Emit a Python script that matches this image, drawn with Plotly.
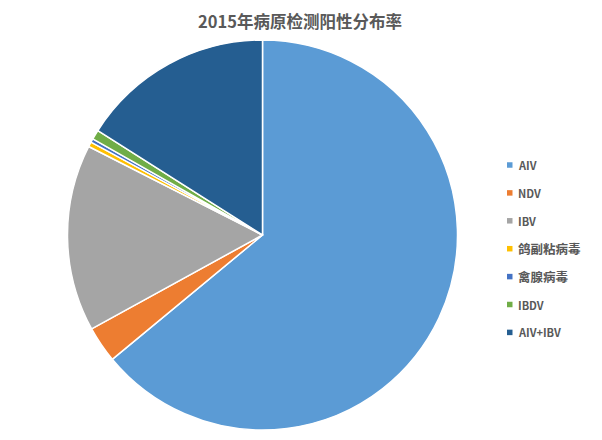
import plotly.graph_objects as go

labels = ["AIV", "NDV", "IBV", "鸽副粘病毒", "禽腺病毒", "IBDV", "AIV+IBV"]
values = [64.0, 3.0, 15.5, 0.4, 0.3, 0.8, 16.0]
colors = ["#5B9BD5", "#ED7D31", "#A5A5A5", "#FFC000", "#4472C4", "#70AD47", "#255E91"]
title = "2015年病原检测阳性分布率"

W, H = 602, 440
OFF = 8  # page offset of the plot div
cx, cy, r = 262.5 - OFF, 235 - OFF, 195

fig = go.Figure(go.Pie(
    labels=labels, values=values, sort=False, direction="clockwise", rotation=0,
    marker=dict(colors=colors, line=dict(color="white", width=1.5)),
    textinfo="none", hoverinfo="label+percent", showlegend=False,
    domain=dict(x=[(cx - r) / W, (cx + r) / W], y=[(H - cy - r) / H, (H - cy + r) / H]),
))

font_family = "Noto Sans CJK SC, Noto Sans, sans-serif"
shapes, annotations = [], []
y0, dy = 165 - OFF, 27.9
for i, (lab, col) in enumerate(zip(labels, colors)):
    yc = y0 + i * dy
    shapes.append(dict(type="rect", xref="paper", yref="paper",
                       x0=(507 - OFF) / W, x1=(512.5 - OFF) / W,
                       y0=1 - (yc + 2.75) / H, y1=1 - (yc - 2.75) / H,
                       fillcolor=col, line=dict(width=0)))
    size = 11 if lab.isascii() else 12.5
    annotations.append(dict(text="<b>" + lab + "</b>", xref="paper", yref="paper",
                            x=(515.5 - OFF) / W, y=1 - yc / H,
                            xanchor="left", yanchor="middle", showarrow=False,
                            font=dict(size=size, color="#595959", family=font_family)))

annotations.append(dict(text="<b>" + title + "</b>", xref="paper", yref="paper",
                        x=(300 - OFF) / W, y=1, xanchor="center", yanchor="top",
                        borderpad=0, showarrow=False,
                        font=dict(size=16.5, color="#595959", family=font_family)))

fig.update_layout(width=W, height=H, margin=dict(l=0, r=0, t=0, b=0),
                  paper_bgcolor="white", plot_bgcolor="white",
                  shapes=shapes, annotations=annotations)
fig.write_html("out.html")
